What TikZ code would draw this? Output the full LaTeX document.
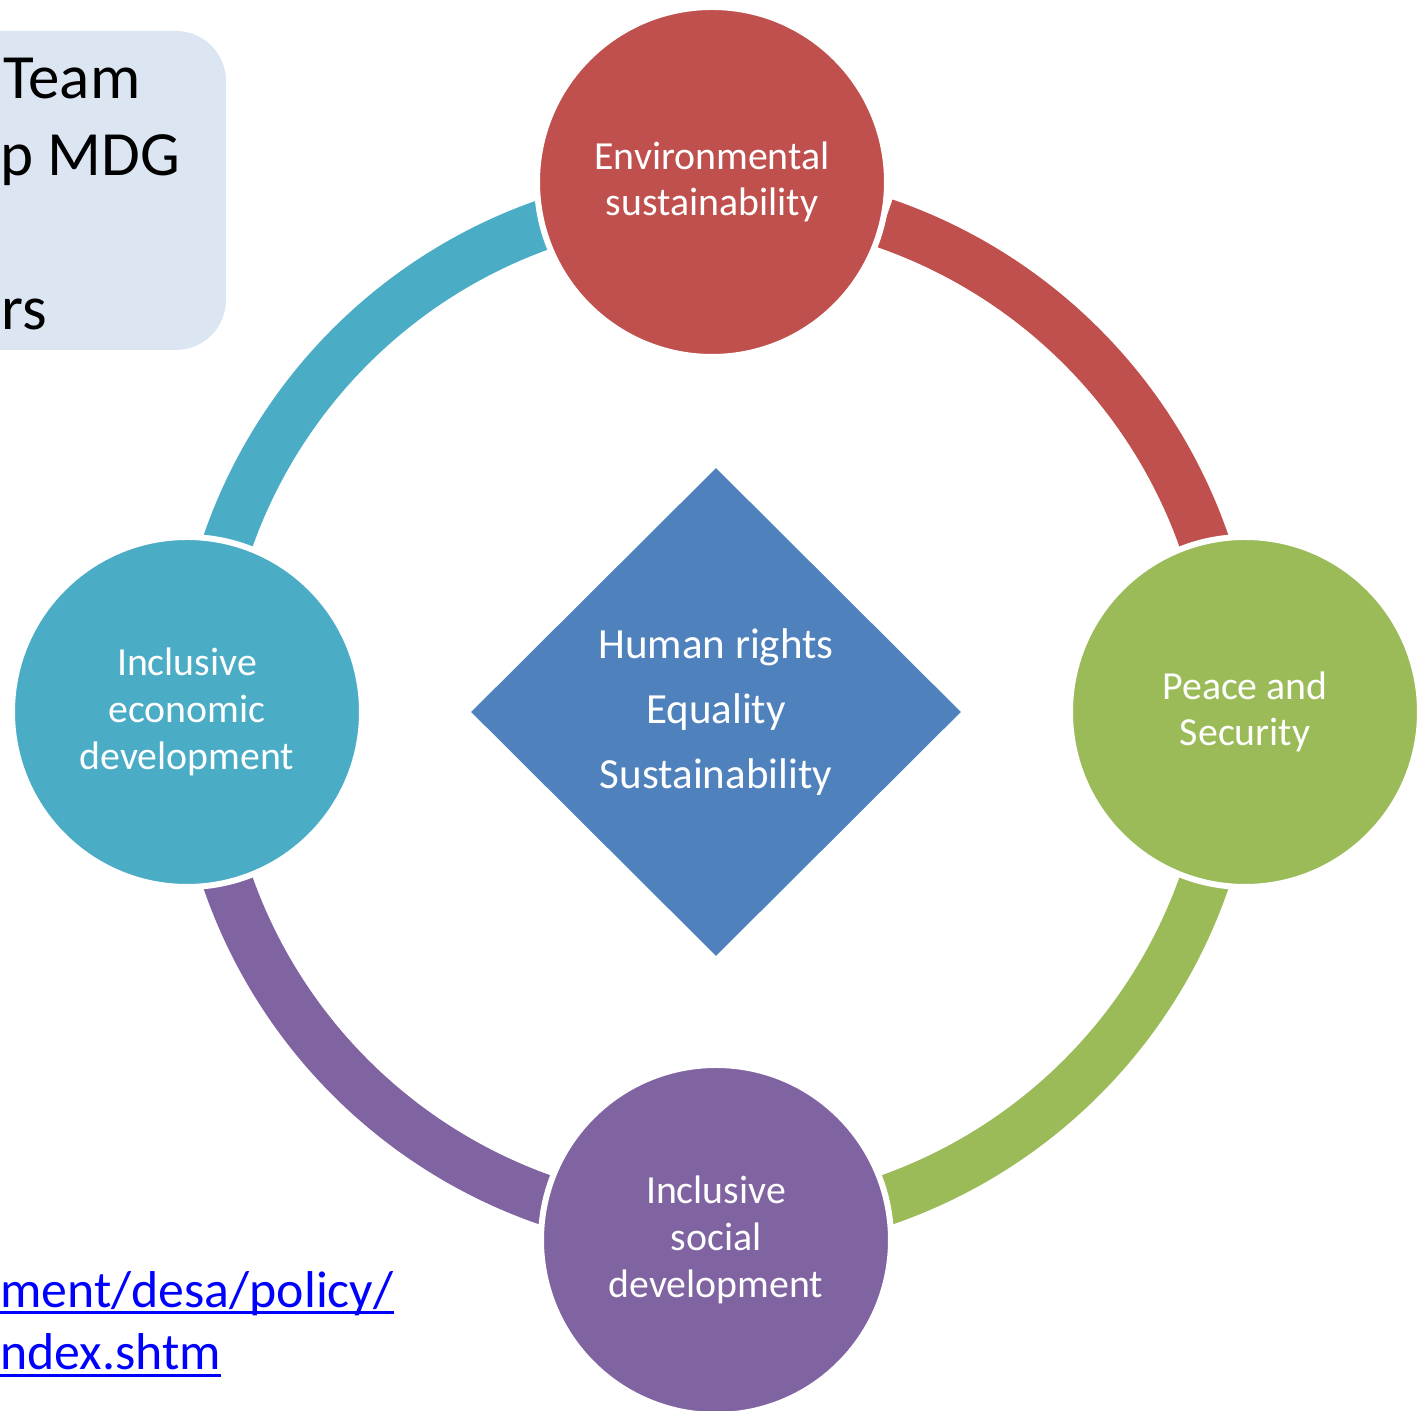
\documentclass[tikz,border=0pt]{standalone}
\usepackage{fontspec}
\setmainfont{Carlito}                 % mêmes chasses que Calibri
\usepackage{tikz}
\usetikzlibrary{shapes.geometric,     % losange
           calc,                      % Calculs de coordonnées entre $ $
           positioning}
\definecolor{rouge}{HTML}{C0504D}
\definecolor{vert}{HTML}{9BBB59}
\definecolor{violet}{HTML}{8064A2}
\definecolor{turquoise}{HTML}{4BACC6}
\definecolor{bleu}{HTML}{4F81BD}
\definecolor{fond}{HTML}{DCE6F2}
\definecolor{lien}{HTML}{0000FF}
\tikzset{
  bulle/.style={circle, draw=white, line width=3pt, minimum size=175pt, inner sep=0pt,
    align=center, text=white, font=\fontsize{19.9}{23.4}\selectfont},
  anneau/.style={line width=25pt},
  titre/.style={anchor=base west, inner sep=0pt, font=\fontsize{31.5}{38.5}\selectfont},
  url/.style={anchor=base west, inner sep=0pt, text=lien, font=\fontsize{25.9}{32.5}\selectfont}
}

\begin{document}
\begin{tikzpicture}[x=0.5pt,y=0.5pt]
\useasboundingbox (0,0) rectangle (1426,1411);
\fill[fond, rounded corners=25pt] (-60,1061) rectangle (226,1380);
\node[titre](T1) at (3,1312){Team};
\node[titre](T2) at (0,1235){p MDG};
\node[titre](T3) at (1,1081){rs};
\coordinate (O) at (716,699);
\draw[anneau, turquoise] ([shift={(109:258.5pt)}]O) arc[start angle=109, end angle=161, radius=258.5pt];
\draw[anneau, rouge] ([shift={(19:258.5pt)}]O) arc[start angle=19, end angle=71, radius=258.5pt];
\draw[anneau, vert] ([shift={(-71:258.5pt)}]O) arc[start angle=-71, end angle=-19, radius=258.5pt];
\draw[anneau, violet] ([shift={(199:258.5pt)}]O) arc[start angle=199, end angle=251, radius=258.5pt];
\node[diamond, fill=bleu, minimum width=245pt, minimum height=244pt, inner sep=0pt, align=center,
  text=white, font=\fontsize{21.5}{32.7}\selectfont](D) at (O){Human rights\\Equality\\Sustainability};
\node[bulle, fill=rouge](Env) at (712,1229){Environmental\\sustainability};
\node[bulle, fill=vert](Paix) at (1245,699){Peace and\\Security};
\node[bulle, fill=violet](Soc) at (716,171){Inclusive\\social\\development};
\node[bulle, fill=turquoise](Eco) at (187,699){Inclusive\\economic\\development};
\node[url](L1) at (0,103){ment/desa/policy/};
\node[url](L2) at (0,41){ndex.shtm};
\draw[lien, line width=1.5pt] ($(L1.base west)+(0,-5)$) -- ($(L1.base east)+(0,-5)$);
\draw[lien, line width=1.5pt] ($(L2.base west)+(0,-6)$) -- ($(L2.base east)+(0,-6)$);
\end{tikzpicture}
\end{document}
